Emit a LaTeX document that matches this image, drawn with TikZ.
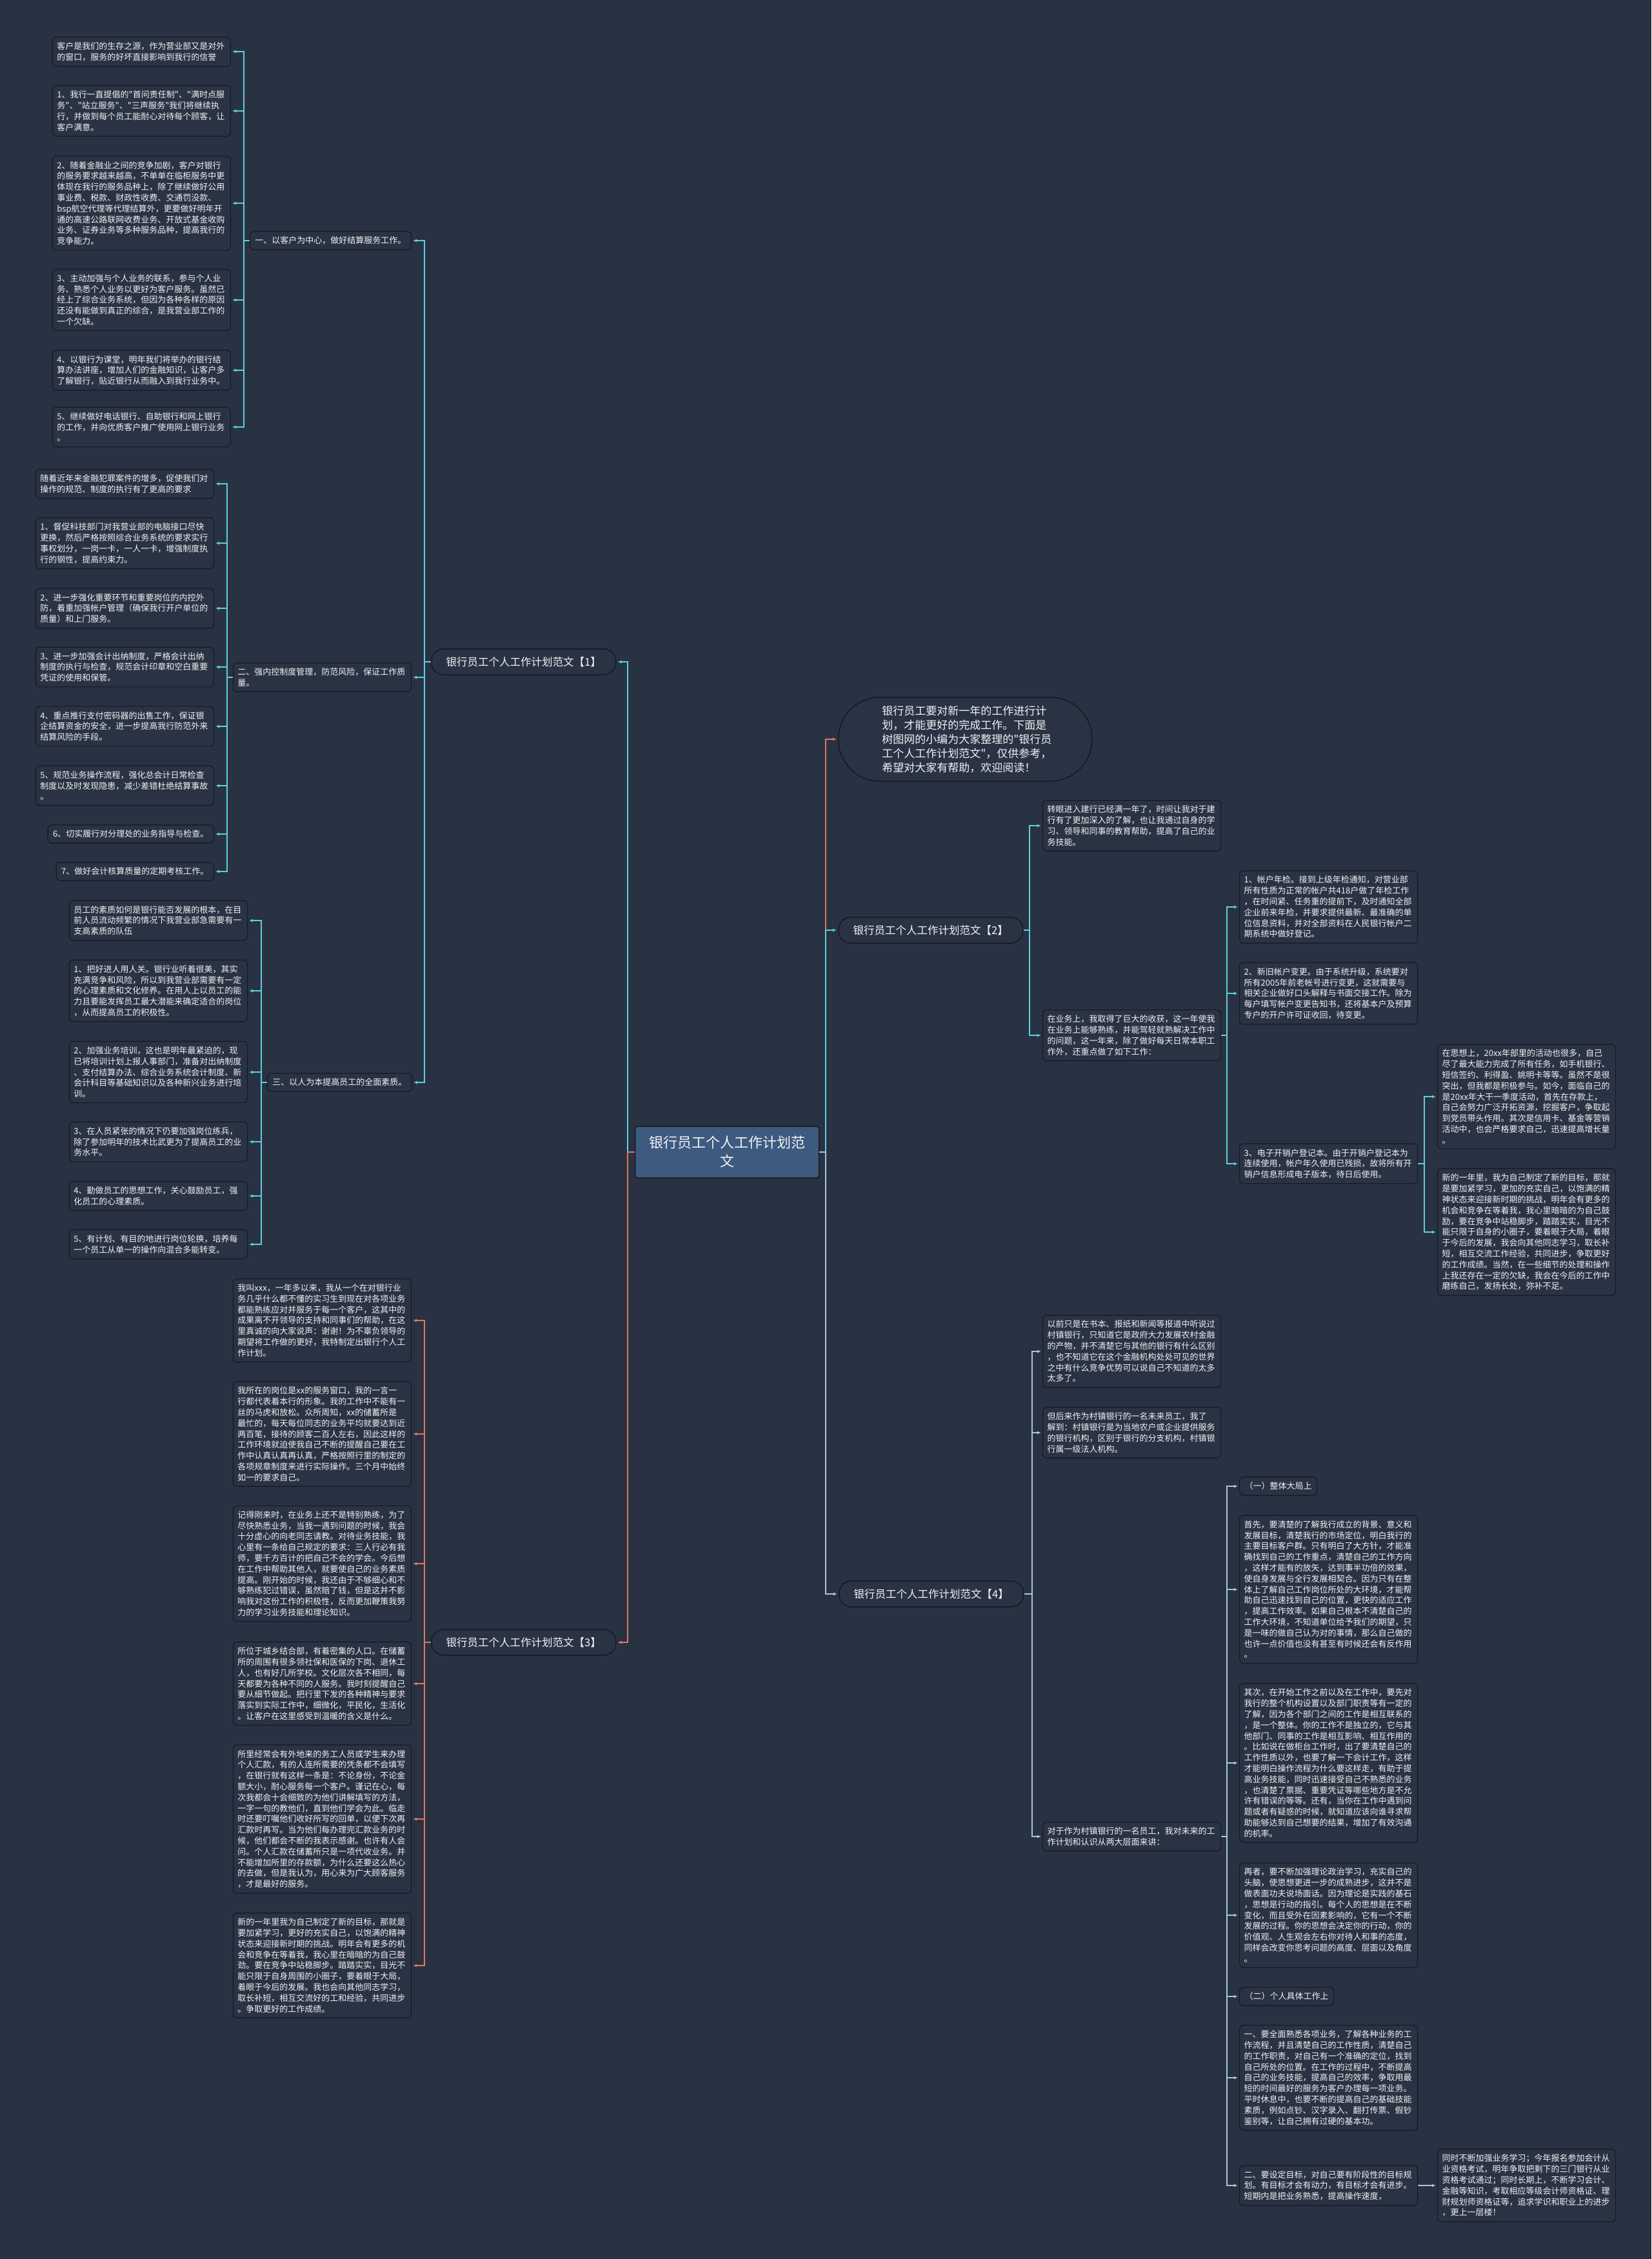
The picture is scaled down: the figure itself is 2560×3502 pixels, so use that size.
\documentclass[tikz,border=0pt]{standalone}
\usepackage{fontspec}
\newfontfamily\cjk{Noto Sans CJK SC}
\usetikzlibrary{arrows.meta}
\definecolor{bgc}{HTML}{293242}
\definecolor{boxc}{HTML}{2A3344}
\definecolor{edgec}{HTML}{161A21}
\definecolor{rootc}{HTML}{3D5A80}
\definecolor{cyanc}{HTML}{5CCFE0}
\definecolor{salc}{HTML}{E0785E}
\definecolor{bluec}{HTML}{A3C8E0}
\definecolor{txtc}{HTML}{F2F2F2}
\newcommand\leaffont{\cjk\fontsize{13}{16.8}\selectfont}
\newcommand\branchfont{\cjk\fontsize{16.5}{20}\selectfont}
\newcommand\rootfont{\cjk\fontsize{22}{29}\selectfont}
\newcommand\introfont{\cjk\fontsize{17}{22}\selectfont}
\begin{document}
\begin{tikzpicture}[x=1pt,y=-1pt,
 leaf/.style={draw=edgec,line width=1.2pt,fill=boxc,rounded corners=6pt,text=txtc,font=\leaffont,align=left,text width=262pt,inner xsep=7pt,inner ysep=8pt},
 leafshort/.style={draw=edgec,line width=1.2pt,fill=boxc,rounded corners=6pt,text=txtc,font=\leaffont,inner xsep=8pt,inner ysep=8pt},
 branchbox/.style={draw=edgec,line width=1.5pt,fill=boxc,rounded corners=19pt,text=txtc,font=\branchfont,minimum width=286pt,minimum height=40pt},
 rootbox/.style={draw=edgec,line width=1.5pt,fill=rootc,rounded corners=4pt,text=txtc,font=\rootfont,align=center,minimum width=285pt,minimum height=80pt},
 introbox/.style={draw=edgec,line width=1.5pt,fill=boxc,rounded corners=64pt,text=txtc,font=\introfont,align=left,text width=258pt,minimum width=393pt,minimum height=130pt},
 conn/.style={line width=1.8pt,-{Latex[length=6pt,width=5pt]},shorten >=2pt},
 plain/.style={line width=1.8pt}
]
\fill[bgc] (0,0) rectangle (2560,3502);
\useasboundingbox (0,0) rectangle (2560,3502);

% spine coordinates
\coordinate (sp1) at (378,0);
\coordinate (sp2) at (352,0);
\coordinate (sp3) at (405,0);
\coordinate (spb1) at (658,0);
\coordinate (spl) at (973,0);
\coordinate (spb3) at (658,0);
\coordinate (spr) at (1280,0);
\coordinate (spb2) at (1596,0);
\coordinate (spr2b) at (1902,0);
\coordinate (spr2e) at (2208,0);
\coordinate (spb4) at (1600,0);
\coordinate (spr4c) at (1902,0);

% root and branches
\node[rootbox] (root) at (1127,1786) {银行员工个人工作计划范\\文};
\node[branchbox,anchor=west] (b1) at (668,1026) {银行员工个人工作计划范文【1】};
\node[branchbox,anchor=west] (b3) at (668,2546) {银行员工个人工作计划范文【3】};
\node[branchbox,anchor=west] (b2) at (1299,1442) {银行员工个人工作计划范文【2】};
\node[branchbox,anchor=west] (b4) at (1300,2471) {银行员工个人工作计划范文【4】};
\node[introbox,anchor=west] (intro) at (1299,1146) {银行员工要对新一年的工作进行计\\划，才能更好的完成工作。下面是\\树图网的小编为大家整理的"银行员\\工个人工作计划范文"，仅供参考，\\希望对大家有帮助，欢迎阅读！};

% branch 1 sections
\node[leafshort,anchor=east] (s1) at (638,373) {一、以客户为中心，做好结算服务工作。};
\node[leaf,anchor=east] (s2) at (638,1050) {二、强内控制度管理，防范风险，保证工作质\\量。};
\node[leafshort,anchor=east] (s3) at (639,1678) {三、以人为本提高员工的全面素质。};

% section 1 leaves
\node[leaf,anchor=east] (l1a) at (358,80) {客户是我们的生存之源，作为营业部又是对外\\的窗口，服务的好坏直接影响到我行的信誉};
\node[leaf,anchor=east] (l1b) at (358,172) {1、我行一直提倡的"首问责任制"、"满时点服\\务"、"站立服务"、"三声服务"我们将继续执\\行，并做到每个员工能耐心对待每个顾客，让\\客户满意。};
\node[leaf,anchor=east] (l1c) at (358,315) {2、随着金融业之间的竞争加剧，客户对银行\\的服务要求越来越高，不单单在临柜服务中更\\体现在我行的服务品种上，除了继续做好公用\\事业费、税款、财政性收费、交通罚没款、\\bsp航空代理等代理结算外，更要做好明年开\\通的高速公路联网收费业务、开放式基金收购\\业务、证券业务等多种服务品种，提高我行的\\竞争能力。};
\node[leaf,anchor=east] (l1d) at (358,465) {3、主动加强与个人业务的联系，参与个人业\\务、熟悉个人业务以更好为客户服务。虽然已\\经上了综合业务系统，但因为各种各样的原因\\还没有能做到真正的综合，是我营业部工作的\\一个欠缺。};
\node[leaf,anchor=east] (l1e) at (358,574) {4、以银行为课堂，明年我们将举办的银行结\\算办法讲座，增加人们的金融知识，让客户多\\了解银行，贴近银行从而融入到我行业务中。};
\node[leaf,anchor=east] (l1f) at (358,662) {5、继续做好电话银行、自助银行和网上银行\\的工作，并向优质客户推广使用网上银行业务\\。};

% section 2 leaves
\node[leaf,anchor=east] (l2a) at (332,750) {随着近年来金融犯罪案件的增多，促使我们对\\操作的规范、制度的执行有了更高的要求};
\node[leaf,anchor=east] (l2b) at (332,842) {1、督促科技部门对我营业部的电脑接口尽快\\更换，然后严格按照综合业务系统的要求实行\\事权划分，一岗一卡，一人一卡，增强制度执\\行的钢性，提高约束力。};
\node[leaf,anchor=east] (l2c) at (332,943) {2、进一步强化重要环节和重要岗位的内控外\\防，着重加强帐户管理（确保我行开户单位的\\质量）和上门服务。};
\node[leaf,anchor=east] (l2d) at (332,1034) {3、进一步加强会计出纳制度，严格会计出纳\\制度的执行与检查，规范会计印章和空白重要\\凭证的使用和保管。};
\node[leaf,anchor=east] (l2e) at (332,1126) {4、重点推行支付密码器的出售工作，保证银\\企结算资金的安全，进一步提高我行防范外来\\结算风险的手段。};
\node[leaf,anchor=east] (l2f) at (332,1218) {5、规范业务操作流程，强化总会计日常检查\\制度以及时发现隐患，减少差错杜绝结算事故\\。};
\node[leafshort,anchor=east] (l2g) at (332,1293) {6、切实履行对分理处的业务指导与检查。};
\node[leafshort,anchor=east] (l2h) at (332,1351) {7、做好会计核算质量的定期考核工作。};

% section 3 leaves
\node[leaf,anchor=east] (l3a) at (384,1427) {员工的素质如何是银行能否发展的根本，在目\\前人员流动频繁的情况下我营业部急需要有一\\支高素质的队伍};
\node[leaf,anchor=east] (l3b) at (384,1536) {1、把好进人用人关。银行业听着很美，其实\\充满竞争和风险，所以到我营业部需要有一定\\的心理素质和文化修养。在用人上以员工的能\\力且要能发挥员工最大潜能来确定适合的岗位\\，从而提高员工的积极性。};
\node[leaf,anchor=east] (l3c) at (384,1662) {2、加强业务培训，这也是明年最紧迫的，现\\已将培训计划上报人事部门，准备对出纳制度\\、支付结算办法、综合业务系统会计制度、新\\会计科目等基础知识以及各种新兴业务进行培\\训。};
\node[leaf,anchor=east] (l3d) at (384,1770) {3、在人员紧张的情况下仍要加强岗位练兵，\\除了参加明年的技术比武更为了提高员工的业\\务水平。};
\node[leaf,anchor=east] (l3e) at (384,1854) {4、勤做员工的思想工作，关心鼓励员工，强\\化员工的心理素质。};
\node[leaf,anchor=east] (l3f) at (384,1929) {5、有计划、有目的地进行岗位轮换，培养每\\一个员工从单一的操作向混合多能转变。};

% branch 3 leaves
\node[leaf,anchor=east] (l4a) at (638,2047) {我叫xxx，一年多以来，我从一个在对银行业\\务几乎什么都不懂的实习生到现在对各项业务\\都能熟练应对并服务于每一个客户，这其中的\\成果离不开领导的支持和同事们的帮助，在这\\里真诚的向大家说声：谢谢！为不辜负领导的\\期望将工作做的更好，我特制定出银行个人工\\作计划。};
\node[leaf,anchor=east] (l4b) at (638,2223) {我所在的岗位是xx的服务窗口，我的一言一\\行都代表着本行的形象。我的工作中不能有一\\丝的马虎和放松。众所周知，xx的储蓄所是\\最忙的，每天每位同志的业务平均就要达到近\\两百笔，接待的顾客二百人左右，因此这样的\\工作环境就迫使我自己不断的提醒自己要在工\\作中认真认真再认真，严格按照行里的制定的\\各项规章制度来进行实际操作。三个月中始终\\如一的要求自己。};
\node[leaf,anchor=east] (l4c) at (638,2424) {记得刚来时，在业务上还不是特别熟练，为了\\尽快熟悉业务，当我一遇到问题的时候，我会\\十分虚心的向老同志请教。对待业务技能，我\\心里有一条给自己规定的要求：三人行必有我\\师，要千方百计的把自己不会的学会。今后想\\在工作中帮助其他人，就要使自己的业务素质\\提高。刚开始的时候，我还由于不够细心和不\\够熟练犯过错误，虽然赔了钱，但是这并不影\\响我对这份工作的积极性，反而更加鞭策我努\\力的学习业务技能和理论知识。};
\node[leaf,anchor=east] (l4d) at (638,2610) {所位于城乡结合部，有着密集的人口。在储蓄\\所的周围有很多领社保和医保的下岗、退休工\\人，也有好几所学校。文化层次各不相同，每\\天都要为各种不同的人服务。我时刻提醒自己\\要从细节做起。把行里下发的各种精神与要求\\落实到实际工作中，细微化，平民化，生活化\\。让客户在这里感受到温暖的含义是什么。};
\node[leaf,anchor=east] (l4e) at (638,2820) {所里经常会有外地来的务工人员或学生来办理\\个人汇款，有的人连所需要的凭条都不会填写\\，在银行就有这样一条是：不论身份，不论金\\额大小，耐心服务每一个客户。谨记在心，每\\次我都会十会细致的为他们讲解填写的方法，\\一字一句的教他们，直到他们学会为此。临走\\时还要叮嘱他们收好所写的回单，以便下次再\\汇款时再写。当为他们每办理完汇款业务的时\\候，他们都会不断的我表示感谢。也许有人会\\问。个人汇款在储蓄所只是一项代收业务。并\\不能增加所里的存款额，为什么还要这么热心\\的去做，但是我认为，用心来为广大顾客服务\\，才是最好的服务。};
\node[leaf,anchor=east] (l4f) at (638,3047) {新的一年里我为自己制定了新的目标，那就是\\要加紧学习，更好的充实自己，以饱满的精神\\状态来迎接新时期的挑战。明年会有更多的机\\会和竞争在等着我，我心里在暗暗的为自己鼓\\劲。要在竞争中站稳脚步。踏踏实实，目光不\\能只限于自身周围的小圈子，要着眼于大局，\\着眼于今后的发展。我也会向其他同志学习，\\取长补短，相互交流好的工和经验，共同进步\\。争取更好的工作成绩。};

% branch 2 leaves
\node[leaf,anchor=west] (r2a) at (1616,1280) {转眼进入建行已经满一年了，时间让我对于建\\行有了更加深入的了解，也让我通过自身的学\\习、领导和同事的教育帮助，提高了自己的业\\务技能。};
\node[leaf,anchor=west] (r2b) at (1616,1605) {在业务上，我取得了巨大的收获，这一年使我\\在业务上能够熟练，并能驾轻就熟解决工作中\\的问题，这一年来，除了做好每天日常本职工\\作外，还重点做了如下工作：};
\node[leaf,anchor=west] (r2c) at (1921,1406) {1、帐户年检。接到上级年检通知，对营业部\\所有性质为正常的帐户共418户做了年检工作\\，在时间紧、任务重的提前下，及时通知全部\\企业前来年检，并要求提供最新、最准确的单\\位信息资料，并对全部资料在人民银行帐户二\\期系统中做好登记。};
\node[leaf,anchor=west] (r2d) at (1921,1540) {2、新旧帐户变更。由于系统升级，系统要对\\所有2005年前老帐号进行变更，这就需要与\\相关企业做好口头解释与书面交接工作。除为\\每户填写帐户变更告知书，还将基本户及预算\\专户的开户许可证收回，待变更。};
\node[leaf,anchor=west] (r2e) at (1921,1804) {3、电子开销户登记本。由于开销户登记本为\\连续使用，帐户年久使用已残损，故将所有开\\销户信息形成电子版本，待日后使用。};
\node[leaf,anchor=west] (r2f) at (2228,1700) {在思想上，20xx年部里的活动也很多，自己\\尽了最大能力完成了所有任务，如手机银行、\\短信签约、利得盈、姚明卡等等。虽然不是很\\突出，但我都是积极参与。如今，面临自己的\\是20xx年大干一季度活动，首先在存款上，\\自己会努力广泛开拓资源，挖掘客户，争取起\\到党员带头作用。其次是信用卡、基金等营销\\活动中，也会严格要求自己，迅速提高增长量\\。};
\node[leaf,anchor=west] (r2g) at (2228,1910) {新的一年里，我为自己制定了新的目标，那就\\是要加紧学习，更加的充实自己，以饱满的精\\神状态来迎接新时期的挑战，明年会有更多的\\机会和竞争在等着我，我心里暗暗的为自己鼓\\励，要在竞争中站稳脚步，踏踏实实，目光不\\能只限于自身的小圈子，要着眼于大局，着眼\\于今后的发展，我会向其他同志学习，取长补\\短，相互交流工作经验，共同进步，争取更好\\的工作成绩。当然，在一些细节的处理和操作\\上我还存在一定的欠缺，我会在今后的工作中\\磨练自己，发扬长处，弥补不足。};

% branch 4 leaves
\node[leaf,anchor=west] (r4a) at (1616,2095) {以前只是在书本、报纸和新闻等报道中听说过\\村镇银行，只知道它是政府大力发展农村金融\\的产物，并不清楚它与其他的银行有什么区别\\，也不知道它在这个金融机构处处可见的世界\\之中有什么竞争优势可以说自己不知道的太多\\太多了。};
\node[leaf,anchor=west] (r4b) at (1616,2221) {但后来作为村镇银行的一名未来员工，我了\\解到：村镇银行是为当地农户或企业提供服务\\的银行机构，区别于银行的分支机构，村镇银\\行属一级法人机构。};
\node[leaf,anchor=west] (r4c) at (1616,2847) {对于作为村镇银行的一名员工，我对未来的工\\作计划和认识从两大层面来讲：};
\node[leafshort,anchor=west] (r4d) at (1921,2304) {（一）整体大局上};
\node[leaf,anchor=west] (r4e) at (1921,2464) {首先，要清楚的了解我行成立的背景、意义和\\发展目标，清楚我行的市场定位，明白我行的\\主要目标客户群。只有明白了大方针，才能准\\确找到自己的工作重点，清楚自己的工作方向\\，这样才能有的放矢，达到事半功倍的效果，\\使自身发展与全行发展相契合。因为只有在整\\体上了解自己工作岗位所处的大环境，才能帮\\助自己迅速找到自己的位置，更快的适应工作\\，提高工作效率。如果自己根本不清楚自己的\\工作大环境，不知道单位给予我们的期望，只\\是一味的做自己认为对的事情，那么自己做的\\也许一点价值也没有甚至有时候还会有反作用\\。};
\node[leaf,anchor=west] (r4f) at (1921,2733) {其次，在开始工作之前以及在工作中，要先对\\我行的整个机构设置以及部门职责等有一定的\\了解，因为各个部门之间的工作是相互联系的\\，是一个整体。你的工作不是独立的，它与其\\他部门、同事的工作是相互影响、相互作用的\\。比如说在做柜台工作时，出了要清楚自己的\\工作性质以外，也要了解一下会计工作，这样\\才能明白操作流程为什么要这样走，有助于提\\高业务技能，同时迅速接受自己不熟悉的业务\\，也清楚了票据、重要凭证等哪些地方是不允\\许有错误的等等。还有，当你在工作中遇到问\\题或者有疑惑的时候，就知道应该向谁寻求帮\\助能够达到自己想要的结果，增加了有效沟通\\的机率。};
\node[leaf,anchor=west] (r4g) at (1921,2969) {再者，要不断加强理论政治学习，充实自己的\\头脑，使思想更进一步的成熟进步，这并不是\\做表面功夫说场面话。因为理论是实践的基石\\，思想是行动的指引。每个人的思想是在不断\\变化，而且受外在因素影响的，它有一个不断\\发展的过程。你的思想会决定你的行动，你的\\价值观、人生观会左右你对待人和事的态度，\\同样会改变你思考问题的高度、层面以及角度\\。};
\node[leafshort,anchor=west] (r4h) at (1921,3095) {（二）个人具体工作上};
\node[leaf,anchor=west] (r4i) at (1921,3221) {一、要全面熟悉各项业务，了解各种业务的工\\作流程，并且清楚自己的工作性质，清楚自己\\的工作职责，对自己有一个准确的定位，找到\\自己所处的位置。在工作的过程中，不断提高\\自己的业务技能，提高自己的效率，争取用最\\短的时间最好的服务为客户办理每一项业务。\\平时休息中，也要不断的提高自己的基础技能\\素质，例如点钞、汉字录入、翻打传票、假钞\\鉴别等，让自己拥有过硬的基本功。};
\node[leaf,anchor=west] (r4j) at (1921,3388) {二、要设定目标，对自己要有阶段性的目标规\\划。有目标才会有动力，有目标才会有进步。\\短期内是把业务熟悉，提高操作速度，};
\node[leaf,anchor=west] (r4k) at (2228,3388) {同时不断加强业务学习；今年报名参加会计从\\业资格考试，明年争取把剩下的三门银行从业\\资格考试通过；同时长期上，不断学习会计、\\金融等知识，考取相应等级会计师资格证、理\\财规划师资格证等，追求学识和职业上的进步\\，更上一层楼！};

% ===== connectors =====
% root left
\draw[conn,cyanc] (root.west) -- (root.west -| spl) |- (b1.east);
\draw[conn,salc] (root.west) -- (root.west -| spl) |- (b3.east);
% root right
\draw[conn,salc] (root.east) -- (root.east -| spr) |- (intro.west);
\draw[conn,cyanc] (root.east) -- (root.east -| spr) |- (b2.west);
\draw[conn,bluec] (root.east) -- (root.east -| spr) |- (b4.west);

% branch 1
\foreach \t in {s1,s2,s3} \draw[conn,cyanc] (b1.west) -- (b1.west -| spb1) |- (\t.east);
\foreach \t in {l1a,l1b,l1c,l1d,l1e,l1f} \draw[conn,cyanc] (s1.west) -- (s1.west -| sp1) |- (\t.east);
\foreach \t in {l2a,l2b,l2c,l2d,l2e,l2f,l2g,l2h} \draw[conn,cyanc] (s2.west) -- (s2.west -| sp2) |- (\t.east);
\foreach \t in {l3a,l3b,l3c,l3d,l3e,l3f} \draw[conn,cyanc] (s3.west) -- (s3.west -| sp3) |- (\t.east);

% branch 3
\foreach \t in {l4a,l4b,l4c,l4d,l4e,l4f} \draw[conn,salc] (b3.west) -- (b3.west -| spb3) |- (\t.east);

% branch 2
\foreach \t in {r2a,r2b} \draw[conn,cyanc] (b2.east) -- (b2.east -| spb2) |- (\t.west);
\foreach \t in {r2c,r2d,r2e} \draw[conn,cyanc] (r2b.east) -- (r2b.east -| spr2b) |- (\t.west);
\foreach \t in {r2f,r2g} \draw[conn,cyanc] (r2e.east) -- (r2e.east -| spr2e) |- (\t.west);

% branch 4
\foreach \t in {r4a,r4b,r4c} \draw[conn,bluec] (b4.east) -- (b4.east -| spb4) |- (\t.west);
\foreach \t in {r4d,r4e,r4f,r4g,r4h,r4i,r4j} \draw[conn,bluec] (r4c.east) -- (r4c.east -| spr4c) |- (\t.west);
\draw[conn,bluec] (r4j.east) -- (r4k.west);
\end{tikzpicture}
\end{document}
